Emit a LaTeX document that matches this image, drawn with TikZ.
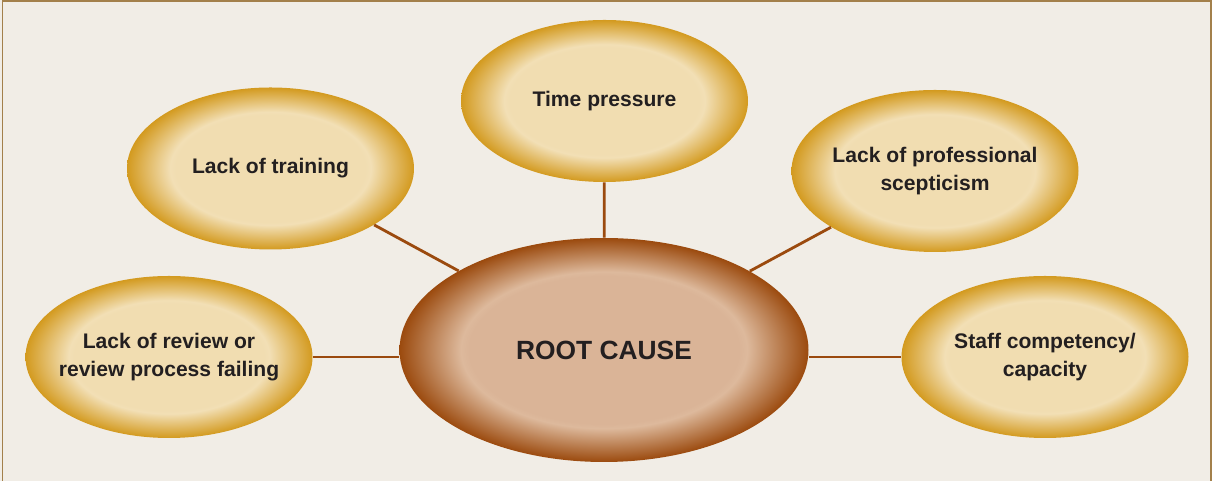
\documentclass[tikz,border=0pt]{standalone}
\usepackage{fontspec}
\setmainfont{Liberation Sans}
\usepackage{xcolor}
\usetikzlibrary{shapes.geometric}
\definecolor{paper}{HTML}{F1EDE6}
\definecolor{frameline}{HTML}{A3804B}
\definecolor{goldout}{HTML}{D39A1F}
\definecolor{goldhi}{HTML}{F2DFB5}
\definecolor{goldin}{HTML}{F1DDB1}
\definecolor{rustout}{HTML}{9B4A0E}
\definecolor{rusthi}{HTML}{DDB99C}
\definecolor{rustin}{HTML}{DAB497}
\definecolor{inktext}{HTML}{231F20}
\pgfdeclareradialshading{goldglow}{\pgfpoint{0bp}{0bp}}{color(0bp)=(goldin); color(16.5bp)=(goldin); color(17.5bp)=(goldhi); color(25bp)=(goldout); color(50bp)=(goldout)}
\pgfdeclareradialshading{rustglow}{\pgfpoint{0bp}{0bp}}{color(0bp)=(rustin); color(16.5bp)=(rustin); color(17.5bp)=(rusthi); color(25bp)=(rustout); color(50bp)=(rustout)}

\begin{document}
\begin{tikzpicture}[
  cause/.style={ellipse,shade,shading=goldglow,inner xsep=-0.4cm,inner ysep=0pt,minimum width=5.74cm,minimum height=3.24cm,align=center,text=inktext,font=\fontsize{12}{15.5}\selectfont\bfseries},
  root/.style={cause,shading=rustglow,minimum width=8.18cm,minimum height=4.48cm,font=\fontsize{15}{18}\selectfont\bfseries},
  link/.style={draw=rustout,line width=1.6pt}
]
\useasboundingbox (0,0) rectangle (24.24,9.62);
\fill[paper] (0,0) rectangle (24.24,9.62);
\draw[frameline,line width=0.04cm] (0.05,-0.2) -- (0.05,9.60) -- (24.21,9.60) -- (24.21,-0.2);
% --- hub ---
\node[root] (rc) at (12.08,2.62) {ROOT CAUSE};
% --- causes round the hub ---
\node[cause] (time) at (12.09,7.60) {Time pressure};
\node[cause] (train) at (5.41,6.25) {Lack of training};
\node[cause] (scept) at (18.70,6.20) {Lack of professional\\scepticism};
\node[cause] (review) at (3.38,2.48) {Lack of review or\\review process failing};
\node[cause] (staff) at (20.90,2.48) {Staff competency/\\capacity};
\foreach \c in {time,train,scept}{\draw[link] (\c) -- (rc);}
\draw[link] (review.east) -- (review.east -| rc.west);
\draw[link] (staff.west) -- (staff.west -| rc.east);
\end{tikzpicture}
\end{document}
